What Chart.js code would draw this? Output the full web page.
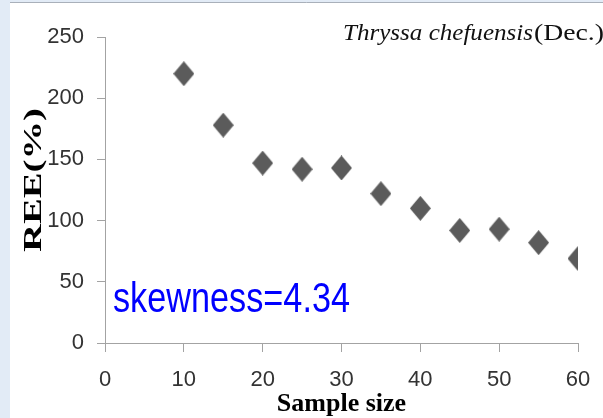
<!DOCTYPE html>
<html>
<head>
<meta charset="utf-8">
<script src="https://cdn.jsdelivr.net/npm/chart.js@4/dist/chart.umd.min.js"></script>
<style>
  html, body { margin: 0; padding: 0; background: #e2ebf6; }
  #wrap { width: 603px; height: 418px; position: relative; }
</style>
</head>
<body>
<div id="wrap"><canvas id="grafico" width="603" height="418"></canvas></div>
<script>
// data
const sampleSizes = [10, 15, 20, 25, 30, 35, 40, 45, 50, 55, 60];
const reeValues = [220, 178, 147, 142, 143, 122, 110, 92, 93, 82, 69];
const xTicks = [0, 10, 20, 30, 40, 50, 60];
const yTicks = [0, 50, 100, 150, 200, 250];

const tituloEspecie = "Thryssa chefuensis";
const tituloMes = "(Dec.)";
const textoSkew = "skewness=4.34";
const tituloX = "Sample size";
const tituloY = "REE(%)";

const fonteSans = "'Liberation Sans', Arial, sans-serif";
const fonteSerif = "'Liberation Serif', 'Times New Roman', serif";

// diamond marker, a little taller than wide like the original
function criarLosango(w, h, cor) {
    const c = document.createElement("canvas");
    c.width = w;
    c.height = h;
    const g = c.getContext("2d");
    g.fillStyle = cor;
    g.beginPath();
    g.moveTo(w / 2, 0);
    g.lineTo(w, h / 2);
    g.lineTo(w / 2, h);
    g.lineTo(0, h / 2);
    g.closePath();
    g.fill();
    return c;
}

const fundo = {
    id: "fundo",
    beforeDraw(chart) {
        const ctx = chart.ctx;
        ctx.save();
        ctx.fillStyle = "#e2ebf6";
        ctx.fillRect(0, 0, chart.width, chart.height);
        ctx.fillStyle = "#ffffff";
        ctx.fillRect(10, 3, chart.width - 10, chart.height - 3);
        ctx.strokeStyle = "#a9b0ba";
        ctx.lineWidth = 1;
        ctx.beginPath();
        ctx.moveTo(10, 2.5);
        ctx.lineTo(chart.width, 2.5);
        ctx.stroke();
        ctx.restore();
    }
};

// draws text squeezed/stretched horizontally to a given width
function textoAjustado(ctx, texto, x, y, larguraAlvo) {
    const w = ctx.measureText(texto).width;
    ctx.save();
    ctx.translate(x, y);
    ctx.scale(larguraAlvo / w, 1);
    ctx.fillText(texto, 0, 0);
    ctx.restore();
}

const textos = {
    id: "textos",
    afterDraw(chart) {
        const ctx = chart.ctx;
        ctx.save();

        // species title, italic name + plain month
        ctx.fillStyle = "#111111";
        ctx.textBaseline = "alphabetic";
        ctx.textAlign = "left";
        ctx.font = "italic 23px " + fonteSerif;
        textoAjustado(ctx, tituloEspecie, 343, 40, 190);
        ctx.font = "23px " + fonteSerif;
        textoAjustado(ctx, tituloMes, 534, 40, 70);

        // skewness note
        ctx.fillStyle = "#0000ff";
        ctx.font = "42px " + fonteSans;
        textoAjustado(ctx, textoSkew, 113, 312, 237);

        // y axis title, rotated and stretched
        ctx.fillStyle = "#000000";
        ctx.font = "bold 26px " + fonteSerif;
        ctx.textAlign = "center";
        ctx.textBaseline = "middle";
        const wy = ctx.measureText(tituloY).width;
        ctx.translate(34, 180);
        ctx.rotate(-Math.PI / 2);
        ctx.scale(144 / wy, 1);
        ctx.fillText(tituloY, 0, 0);

        ctx.restore();
    }
};

const canvas = document.getElementById("grafico");
const ctx = canvas.getContext("2d");

new Chart(ctx, {
    type: "scatter",
    data: {
        datasets: [{
            label: "REE",
            data: sampleSizes.map((s, i) => ({ x: s, y: reeValues[i] })),
            pointStyle: criarLosango(21, 25, "#5b5b5b"),
            pointRadius: 11,
            backgroundColor: "#5b5b5b",
            borderWidth: 0
        }]
    },
    options: {
        responsive: false,
        animation: false,
        devicePixelRatio: 1,
        layout: {
            padding: { left: 10, top: 37, right: 25, bottom: 0 }
        },
        plugins: {
            legend: { display: false },
            tooltip: { enabled: false }
        },
        scales: {
            x: {
                type: "linear",
                min: 0,
                max: 60,
                afterBuildTicks: scale => { scale.ticks = xTicks.map(v => ({ value: v })); },
                afterFit: scale => {
                    scale.height = 75;
                    scale.paddingLeft = 0;
                    scale.paddingRight = 0;
                },
                grid: {
                    drawOnChartArea: false,
                    drawTicks: true,
                    tickLength: 9,
                    color: "#a3a3a3"
                },
                border: { color: "#a3a3a3" },
                ticks: {
                    color: "#333333",
                    padding: 15,
                    maxRotation: 0,
                    font: { family: fonteSans, size: 22 }
                },
                title: {
                    display: true,
                    text: tituloX,
                    color: "#000000",
                    padding: { top: 0, bottom: -2 },
                    font: { family: fonteSerif, size: 26, weight: "bold" }
                }
            },
            y: {
                type: "linear",
                min: 0,
                max: 250,
                afterBuildTicks: scale => { scale.ticks = yTicks.map(v => ({ value: v })); },
                afterFit: scale => { scale.width = 95; },
                grid: {
                    drawOnChartArea: false,
                    drawTicks: true,
                    tickLength: 8,
                    color: "#a3a3a3"
                },
                border: { color: "#a3a3a3" },
                ticks: {
                    color: "#333333",
                    padding: 13,
                    font: { family: fonteSans, size: 22 }
                }
            }
        }
    },
    plugins: [fundo, textos]
});
</script>
</body>
</html>
